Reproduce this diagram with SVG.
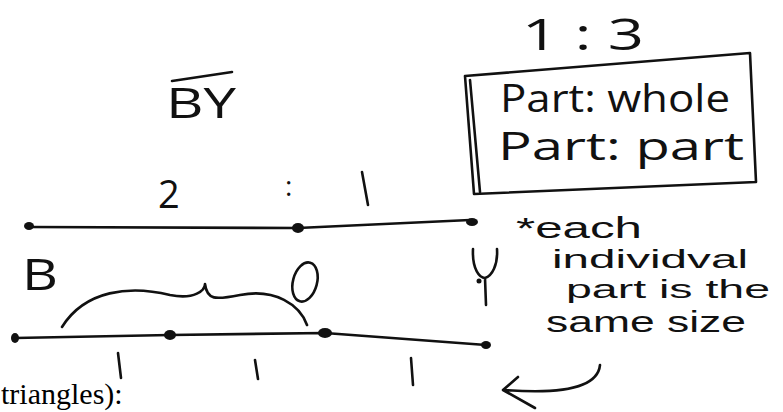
<svg xmlns="http://www.w3.org/2000/svg" width="783" height="412" viewBox="0 0 783 412">
<style>
.ink{fill:none;stroke:#111;stroke-width:2.6;stroke-linecap:round;stroke-linejoin:round}
.hw{font-family:"Open Sans","DejaVu Sans",sans-serif;fill:#111;font-weight:400}
.nt{font-family:"Liberation Sans","Arial",sans-serif;fill:#111;font-size:26px}
.dot{fill:#111}
.serif{font-family:"Liberation Serif",serif;fill:#000}
</style>
<rect width="783" height="412" fill="#fff"/>
<g id="title">
<path class="ink" d="M172 81 L232 72"/>
<text class="hw" x="166" y="118" font-size="42" textLength="70" lengthAdjust="spacingAndGlyphs">BY</text>
</g>
<g id="ratio">
<text class="hw" x="522" y="50" font-size="44" textLength="122" lengthAdjust="spacingAndGlyphs">1 : 3</text>
</g>
<g id="box">
<path class="ink" d="M465 76 L750 53 L756 182 L474 194 Z"/>
<path class="ink" d="M470 80 L480 192" stroke-width="1.6"/>
<text class="hw" x="500" y="112" font-size="38" textLength="230" lengthAdjust="spacingAndGlyphs">Part: whole</text>
<text class="hw" x="498" y="160" font-size="38" textLength="246" lengthAdjust="spacingAndGlyphs">Part: part</text>
</g>
<g id="connectors">
<path class="ink" d="M28 227 L298 228 L470 220" stroke-width="2"/>
<path class="ink" d="M15 338 L170 335 L325 333 L486 345" stroke-width="2"/>
<path class="ink" d="M62 327 C85 290 130 285 170 295 C195 300 205 290 205 284 C207 300 215 300 240 295 C275 288 300 305 307 325" stroke-width="2.4"/>
<path class="ink" d="M600 365 C598 385 570 395 505 390 M518 377 L503 390 L535 408"/>
</g>
<g id="dots">
<ellipse class="dot" cx="29" cy="226" rx="5" ry="4"/>
<ellipse class="dot" cx="298" cy="228" rx="6" ry="5"/>
<ellipse class="dot" cx="472" cy="222" rx="6" ry="4"/>
<ellipse class="dot" cx="15" cy="338" rx="4" ry="5"/>
<ellipse class="dot" cx="170" cy="335" rx="6" ry="5"/>
<ellipse class="dot" cx="325" cy="333" rx="7" ry="5"/>
<ellipse class="dot" cx="486" cy="345" rx="5" ry="4"/>
</g>
<g id="labels">
<text class="hw" x="158" y="208" font-size="38">2</text>
<text class="hw" x="285" y="196" font-size="28">:</text>
<path class="ink" d="M362 172 L368 205"/>
<text class="hw" x="22" y="290" font-size="44" textLength="36" lengthAdjust="spacingAndGlyphs">B</text>
<ellipse class="ink" cx="305" cy="282" rx="12" ry="20" transform="rotate(15 305 282)"/>
<path class="ink" d="M473 249 C472 270 480 278 485 278 C492 276 498 265 497 249 M485 278 L486 305"/>
<ellipse class="dot" cx="479" cy="281" rx="2.5" ry="2.5"/>
<path class="ink" d="M118 353 L121 378"/>
<path class="ink" d="M255 360 L258 379"/>
<path class="ink" d="M411 358 L413 385"/>
</g>
<g id="note">
<text class="nt" x="516" y="238" font-size="30" style="font-size:30px" textLength="126" lengthAdjust="spacingAndGlyphs">*each</text>
<text class="nt" x="552" y="268" textLength="196" lengthAdjust="spacingAndGlyphs">individval</text>
<text class="nt" x="566" y="298" textLength="204" lengthAdjust="spacingAndGlyphs">part is the</text>
<text class="nt" x="546" y="332" style="font-size:30px" textLength="200" lengthAdjust="spacingAndGlyphs">same size</text>
</g>
<text class="serif" x="1" y="404" font-size="30">triangles):</text>
</svg>
